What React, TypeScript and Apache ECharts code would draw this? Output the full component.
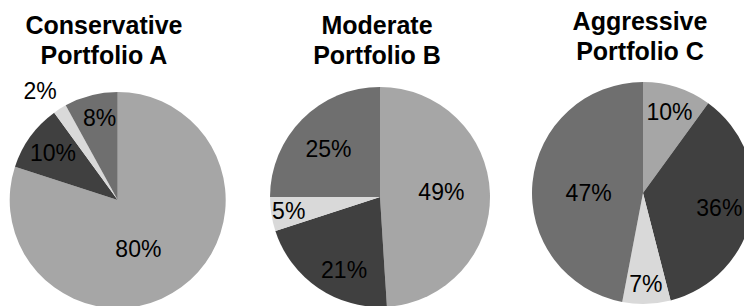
import React, { useEffect, useRef } from 'react';
import * as echarts from 'echarts';

// ---- data ----
const categories = ['Category 1', 'Category 2', 'Category 3', 'Category 4'];
const portfolioTitles = ['Conservative\nPortfolio A', 'Moderate\nPortfolio B', 'Aggressive\nPortfolio C'];
const portfolioA = [80, 10, 2, 8];
const portfolioB = [49, 21, 5, 25];
const portfolioC = [10, 36, 7, 47];
const portfolios = [portfolioA, portfolioB, portfolioC];

// ---- styling / layout ----
const sliceColors = ['#A6A6A6', '#404040', '#D9D9D9', '#6F6F6F'];
const FONT = "'Liberation Sans', Arial, Helvetica, sans-serif";
const pieLayouts = [
  { center: [117.7, 200], radius: 108, titleX: 104, titleY: 9.5 },
  { center: [380, 197], radius: 110, titleX: 377, titleY: 9.5 },
  { center: [643, 193], radius: 111, titleX: 640, titleY: 6 },
];
// per label: [distance as fraction of radius, angle shift in degrees from slice middle]
const labelPlacement = [
  [[0.49, 13], [0.74, 0], [1.24, -3], [0.78, 2]],
  [[0.56, -3], [0.74, -8], [0.84, 0], [0.64, -2]],
  [[0.77, 0], [0.7, 0], [0.82, 0], [0.49, -5]],
];

export default function App() {
  const ref = useRef<HTMLDivElement>(null);
  useEffect(() => {
    document.body.style.margin = '0';
    if (!ref.current) return;
    const chart = echarts.init(ref.current, undefined, { renderer: 'svg' });

    const series = portfolios.map((values, si) => {
      const lay = pieLayouts[si];
      const total = values.reduce((a, b) => a + b, 0);
      const mids: number[] = [];
      let acc = 0;
      values.forEach((v) => {
        mids.push(((acc + v / 2) / total) * 360);
        acc += v;
      });
      return {
        type: 'pie',
        center: lay.center,
        radius: [0, lay.radius],
        startAngle: 90,
        clockwise: true,
        silent: true,
        avoidLabelOverlap: false,
        itemStyle: { borderWidth: 0 },
        label: {
          show: true,
          position: 'inside',
          formatter: '{c}%',
          color: '#000',
          fontSize: 23,
          fontFamily: FONT,
        },
        labelLine: { show: false },
        labelLayout: (params: any) => {
          const i = params.dataIndex;
          const [ratio, shift] = labelPlacement[si][i];
          const ang = ((mids[i] + shift) * Math.PI) / 180;
          const d = ratio * lay.radius;
          return {
            x: lay.center[0] + d * Math.sin(ang),
            y: lay.center[1] - d * Math.cos(ang),
            align: 'center',
            verticalAlign: 'middle',
          };
        },
        data: values.map((v, i) => ({
          name: categories[i],
          value: v,
          itemStyle: { color: sliceColors[i] },
        })),
      };
    });

    const graphic = portfolioTitles.map((t, si) => ({
      type: 'text',
      x: pieLayouts[si].titleX,
      y: pieLayouts[si].titleY,
      silent: true,
      style: {
        text: t,
        fill: '#000',
        fontSize: 25,
        fontWeight: 'bold',
        fontFamily: FONT,
        lineHeight: 30,
        align: 'center',
        verticalAlign: 'top',
      },
    }));

    chart.setOption({
      animation: false,
      backgroundColor: '#FFFFFF',
      series,
      graphic,
    } as any);
    return () => chart.dispose();
  }, []);
  return <div ref={ref} style={{ width: 744, height: 306 }} />;
}
